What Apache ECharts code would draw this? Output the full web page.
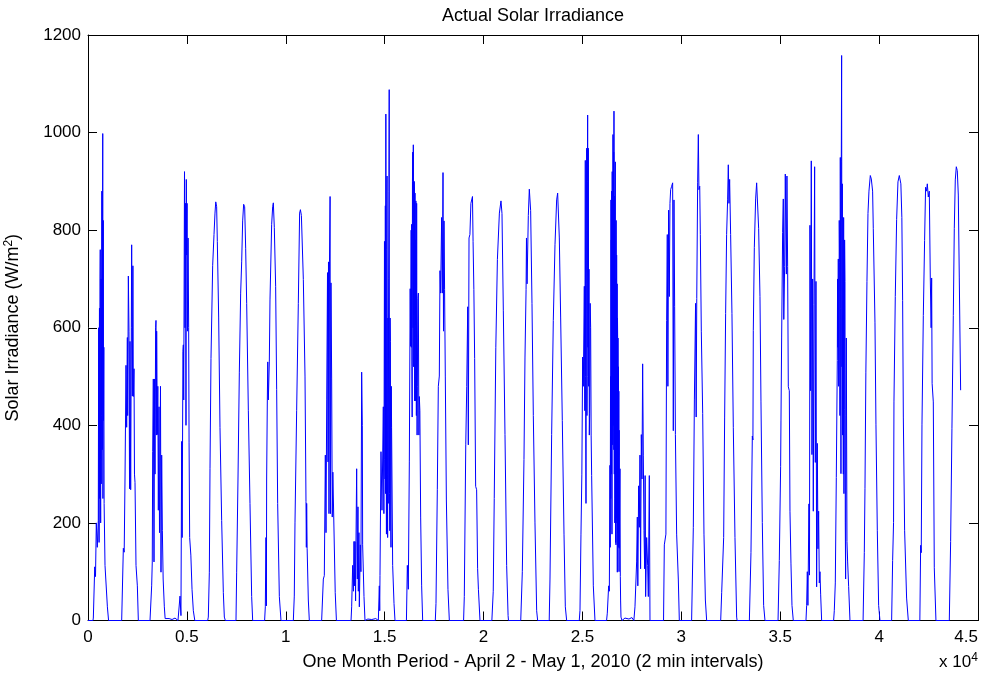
<!DOCTYPE html>
<html>
<head>
<meta charset="utf-8">
<script src="https://cdn.jsdelivr.net/npm/echarts@6/dist/echarts.min.js"></script>
<style>
html,body{margin:0;padding:0;background:#fff;}
#chart{width:992px;height:674px;}
</style>
</head>
<body>
<div id="chart"></div>
<script>
// ---- Data (x = sample index, y = irradiance W/m^2) ----
const week1 = [
  [0,0],[250,0],
  [270,5],[340,110],[380,90],[420,200],[470,150],[520,205],[540,600],[550,300],[560,160],[570,520],[580,640],[590,250],[600,420],[610,700],[620,760],[630,330],[640,200],[650,600],[660,700],[670,280],[680,420],[700,880],[720,350],[745,998],[755,250],[770,820],[785,410],[800,560],[815,240],[830,240],[860,113],[920,113],[980,28],[1040,0],
  [1703,0],[1787,148],[1830,140],[1871,290],[1922,523],[1955,396],[1990,580],[2006,420],[2040,706],[2073,593],[2100,270],[2124,572],[2158,268],[2190,600],[2208,770],[2242,460],[2270,727],[2292,459],[2326,516],[2350,300],[2377,283],[2427,113],[2461,113],[2495,71],[2545,0],
  [3135,0],[3219,71],[3250,120],[3270,346],[3303,495],[3337,120],[3365,495],[3388,300],[3420,600],[3438,615],[3455,380],[3472,593],[3506,381],[3530,480],[3556,226],[3590,438],[3615,180],[3641,184],[3665,480],[3691,99],[3725,339],[3760,184],[3800,85],[3860,28],[3900,4],[3978,0],[4100,4],[4250,2],[4400,5],[4550,0],
  [4652,50],[4700,10],[4736,367],[4760,170],[4800,551],[4820,565],[4840,452],[4880,920],[4904,600],[4930,855],[4955,400],[4970,904],[4989,749],[5010,855],[5030,593],[5060,784],[5090,600],[5110,364],[5140,170],[5200,134],[5260,64],[5326,20],[5400,0],
  [6051,0],[6084,7],[6135,99],[6169,311],[6219,537],[6304,728],[6371,791],[6421,835],[6460,858],[6505,848],[6539,777],[6607,622],[6674,396],[6758,205],[6843,57],[6893,7],[6944,0],
  [7483,0],[7517,99],[7584,290],[7652,509],[7719,671],[7770,735],[7820,819],[7870,853],[7921,848],[7972,763],[8023,650],[8107,431],[8191,240],[8275,49],[8326,0]
];
const week2 = [
  [8930,0],[8966,28],[8999,170],[9020,30],[9033,290],[9067,452],[9090,530],[9118,452],[9168,530],[9202,657],[9286,812],[9337,848],[9371,856],[9421,805],[9488,685],[9539,473],[9590,240],[9674,49],[9758,0],
  [10382,0],[10430,50],[10466,200],[10550,430],[10634,650],[10700,835],[10740,842],[10790,830],[10888,699],[10972,501],[11022,244],[11040,150],[11056,240],[11080,148],[11140,42],[11190,0],
  [11814,0],[11899,85],[11949,92],[12000,339],[12034,180],[12070,452],[12110,713],[12135,325],[12160,735],[12185,219],[12210,735],[12240,869],[12260,219],[12285,692],[12320,495],[12350,212],[12380,304],[12450,304],[12500,57],[12560,0],
  [13300,0],[13331,28],[13382,113],[13420,60],[13449,162],[13480,71],[13500,162],[13530,40],[13550,162],[13584,311],[13618,85],[13650,233],[13668,60],[13700,180],[13719,28],[13769,155],[13800,100],[13837,509],[13870,400],[13887,155],[13955,49],[14005,0],[14150,3],[14350,2],[14550,4],[14680,0],
  [14730,71],[14750,20],[14764,92],[14814,346],[14865,226],[14932,438],[14960,219],[14990,777],[15005,330],[15020,290],[15035,850],[15048,260],[15060,1038],[15075,420],[15090,177],[15105,760],[15120,911],[15135,300],[15150,170],[15165,620],[15180,240],[15200,700],[15215,880],[15230,1088],[15245,260],[15260,184],[15275,620],[15290,572],[15305,210],[15320,150],[15335,480],[15350,396],[15404,113],[15472,35],[15522,0],
  [16100,0],[16146,113],[16196,64],[16247,325],[16290,680],[16314,562],[16340,800],[16352,560],[16365,812],[16378,520],[16390,417],[16405,900],[16420,960],[16435,600],[16449,975],[16465,520],[16483,629],[16495,900],[16510,880],[16520,450],[16533,876],[16542,500],[16550,450],[16558,780],[16567,607],[16578,860],[16590,700],[16604,420],[16617,855],[16628,560],[16640,380],[16651,480],[16680,660],[16702,671],[16730,380],[16752,459],[16780,430],[16820,212],[16870,71],[16921,0]
];
const week3 = [
  [17560,0],[17595,35],[17662,268],[17713,480],[17763,501],[17797,717],[17830,671],[17880,826],[17915,671],[17950,918],[17975,593],[18000,819],[18030,678],[18066,501],[18120,247],[18200,64],[18270,0],
  [18990,0],[19027,49],[19100,360],[19150,480],[19200,643],[19230,360],[19265,784],[19310,791],[19360,855],[19440,869],[19470,777],[19510,678],[19550,537],[19600,275],[19650,268],[19700,106],[19740,64],[19820,0],
  [20420,0],[20490,60],[20540,250],[20620,560],[20700,740],[20800,835],[20881,860],[20932,834],[20999,636],[21084,381],[21168,113],[21240,10],[21260,0],
  [21880,0],[21960,100],[22044,330],[22095,540],[22150,678],[22170,784],[22200,690],[22263,830],[22314,884],[22381,840],[22449,650],[22516,420],[22600,200],[22685,20],[22735,0],
  [23320,0],[23359,85],[23443,381],[23527,615],[23612,770],[23696,862],[23746,876],[23831,784],[23898,622],[23982,410],[24068,177],[24134,28],[24201,0],
  [24840,0],[24876,21],[24926,177],[24970,300],[25010,540],[25044,480],[25095,685],[25120,430],[25145,943],[25160,500],[25179,240],[25195,800],[25213,968],[25228,420],[25240,500],[25252,900],[25263,1036],[25280,560],[25297,968],[25314,480],[25331,720],[25348,380],[25364,424],[25390,650],[25415,600],[25440,380],[25465,297],[25550,71],[25634,0]
];
const week4 = [
  [26220,0],[26257,15],[26325,71],[26360,60],[26392,318],[26405,150],[26420,500],[26430,250],[26443,862],[26452,330],[26460,780],[26470,300],[26480,880],[26493,177],[26505,920],[26512,420],[26520,750],[26530,360],[26544,996],[26552,480],[26560,900],[26570,400],[26580,960],[26587,350],[26594,1044],[26602,520],[26610,300],[26618,870],[26628,699],[26636,200],[26645,250],[26652,820],[26662,940],[26670,260],[26680,160],[26688,700],[26695,155],[26703,820],[26712,650],[26720,210],[26729,749],[26738,400],[26746,200],[26755,690],[26763,99],[26772,620],[26780,580],[26788,180],[26797,579],[26806,300],[26815,150],[26822,520],[26830,339],[26840,470],[26850,100],[26857,390],[26864,148],[26880,230],[26898,311],[26915,90],[26930,40],[26949,7],[26999,0],[27150,5],[27350,3],[27500,6],[27600,0],
  [27656,28],[27740,120],[27775,212],[27800,71],[27842,276],[27875,191],[27909,339],[27940,106],[27977,381],[28010,290],[28044,526],[28078,339],[28112,184],[28146,106],[28170,297],[28196,49],[28246,170],[28297,113],[28331,49],[28381,297],[28415,0],
  [29100,0],[29140,155],[29220,177],[29257,615],[29290,791],[29320,480],[29358,841],[29392,664],[29426,855],[29460,883],[29510,890],[29561,897],[29594,389],[29628,862],[29662,643],[29700,381],[29763,177],[29847,85],[29898,0],
  [30520,0],[30606,191],[30660,452],[30720,650],[30750,417],[30780,660],[30825,897],[30860,996],[30890,883],[30930,890],[30960,791],[31010,593],[31080,424],[31145,177],[31215,42],[31280,0],
  [31990,0],[32040,57],[32140,170],[32190,417],[32240,629],[32290,791],[32340,862],[32375,934],[32409,855],[32442,904],[32493,791],[32560,629],[32628,396],[32712,170],[32797,7],[32820,0],
  [33440,0],[33521,139],[33589,378],[33620,370],[33639,594],[33690,764],[33757,864],[33808,897],[33858,893],[33909,803],[33976,664],[34027,448],[34094,201],[34161,31],[34229,0]
];
const week5 = [
  [34890,0],[34954,123],[35021,316],[35038,409],[35072,579],[35122,795],[35156,864],[35180,617],[35223,726],[35257,915],[35291,911],[35310,710],[35340,911],[35375,726],[35409,479],[35459,471],[35493,224],[35544,116],[35594,31],[35661,0],
  [36302,0],[36336,31],[36370,100],[36400,31],[36453,239],[36480,93],[36504,810],[36538,471],[36571,942],[36605,340],[36639,700],[36673,224],[36706,648],[36740,930],[36774,324],[36808,695],[36841,69],[36875,363],[36909,147],[36942,224],[36976,77],[37010,100],[37044,54],[37094,0],
  [37700,0],[37734,20],[37785,77],[37836,293],[37886,533],[37900,700],[37915,560],[37937,741],[37955,480],[37970,533],[37985,820],[38004,734],[38020,420],[38038,949],[38055,640],[38071,301],[38088,940],[38105,1158],[38120,520],[38139,895],[38155,380],[38172,625],[38190,300],[38206,826],[38222,260],[38240,432],[38255,780],[38274,695],[38290,200],[38307,85],[38325,420],[38341,579],[38375,162],[38409,120],[38459,70],[38527,0],
  [39190,0],[39251,139],[39285,270],[39330,509],[39386,695],[39437,834],[39487,880],[39555,912],[39605,905],[39672,880],[39706,803],[39791,610],[39841,401],[39909,185],[39976,31],[40043,0],
  [40633,0],[40684,123],[40730,201],[40751,448],[40818,664],[40886,822],[40953,899],[41021,912],[41054,911],[41100,895],[41150,826],[41189,656],[41225,417],[41290,185],[41390,46],[41476,0],
  [42060,0],[42100,154],[42130,139],[42167,401],[42235,625],[42300,779],[42350,888],[42400,880],[42437,895],[42487,868],[42538,880],[42588,702],[42630,600],[42656,702],[42680,486],[42740,448],[42790,108],[42874,0],
  [43549,0],[43616,162],[43683,394],[43751,625],[43801,803],[43852,903],[43903,930],[43953,922],[44004,872],[44054,702],[44122,472]
];
const xTickLabels = ['0','0.5','1','1.5','2','2.5','3','3.5','4','4.5'];
const yTickLabels = ['0','200','400','600','800','1000','1200'];
const titleText = 'Actual Solar Irradiance';
const xName = 'One Month Period - April 2 - May 1, 2010 (2 min intervals)';

// ---- Chart ----
const FONT = '"Liberation Sans", Arial, Helvetica, sans-serif';
const irradiance = [].concat(week1, week2, week3, week4, week5);
const chart = echarts.init(document.getElementById('chart'), null, {renderer: 'canvas'});
const axisLine = {show: true, onZero: false, lineStyle: {color: '#000', width: 1}};
const axisTick = {show: true, inside: true, length: 9, lineStyle: {color: '#000', width: 1}};
chart.setOption({
  animation: false,
  backgroundColor: '#fff',
  title: {
    text: titleText, left: 533, textAlign: 'center', top: 7, padding: 0,
    textStyle: {fontFamily: FONT, fontSize: 18, fontWeight: 'normal', color: '#000'}
  },
  grid: {left: 88, right: 14, top: 35, bottom: 53.5, containLabel: false, outerBoundsMode: 'none'},
  xAxis: [{
    type: 'value', min: 0, max: 45000, interval: 5000, position: 'bottom',
    axisLine: axisLine, axisTick: axisTick, splitLine: {show: false},
    axisLabel: {
      color: '#000', fontFamily: FONT, fontSize: 17, margin: 8, alignMaxLabel: 'right',
      formatter: v => xTickLabels[Math.round(v / 5000)]
    },
    name: xName, nameLocation: 'middle', nameGap: 33,
    nameTextStyle: {fontFamily: FONT, fontSize: 18, color: '#000'}
  }, {
    type: 'value', min: 0, max: 45000, interval: 5000, position: 'top',
    axisLine: axisLine, axisTick: axisTick, splitLine: {show: false}, axisLabel: {show: false}
  }],
  yAxis: [{
    type: 'value', min: 0, max: 1200, interval: 200, position: 'left',
    axisLine: axisLine, axisTick: axisTick, splitLine: {show: false},
    axisLabel: {
      color: '#000', fontFamily: FONT, fontSize: 17, margin: 7,
      formatter: v => yTickLabels[Math.round(v / 200)]
    },
    name: 'Solar Irradiance (W/m{sup|2})', nameLocation: 'middle', nameGap: 64, nameRotate: 90,
    nameTextStyle: {
      fontFamily: FONT, fontSize: 18, color: '#000',
      rich: {sup: {fontFamily: FONT, fontSize: 12, color: '#000', padding: [0, 0, 9, 0]}}
    }
  }, {
    type: 'value', min: 0, max: 1200, interval: 200, position: 'right',
    axisLine: axisLine, axisTick: axisTick, splitLine: {show: false}, axisLabel: {show: false}
  }],
  graphic: [{
    type: 'text', left: 939, top: 652,
    style: {
      text: 'x 10{sup|4}', fill: '#000', font: '17px ' + FONT,
      rich: {sup: {fontSize: 12, fontFamily: FONT, fill: '#000', padding: [0, 0, 9, 0]}}
    }
  }],
  series: [{
    type: 'line', xAxisIndex: 0, yAxisIndex: 0, data: irradiance, z: 5,
    showSymbol: false, symbol: 'none', sampling: null, clip: false,
    lineStyle: {color: '#0000ff', width: 1}, itemStyle: {color: '#0000ff'}
  }]
});
</script>
</body>
</html>
